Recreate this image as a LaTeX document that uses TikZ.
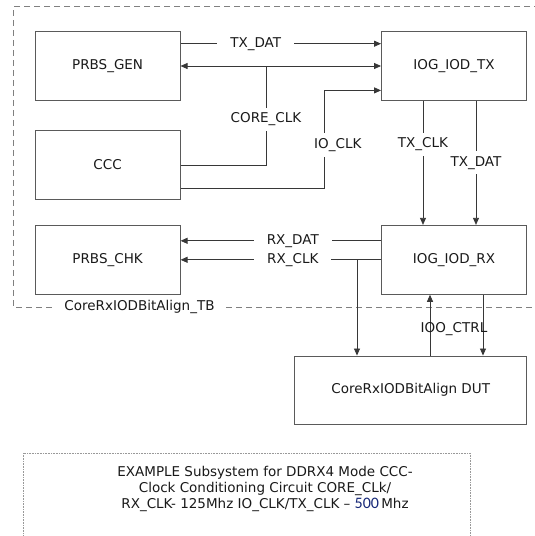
\documentclass[tikz,border=0pt]{standalone}
\usepackage{fontspec}
\setmainfont{DejaVu Sans}
\newfontfamily\numfont{Carlito}
\usetikzlibrary{arrows.meta}
\definecolor{boxline}{RGB}{90,90,90}
\definecolor{sigline}{RGB}{55,55,55}
\definecolor{txtcol}{RGB}{25,25,25}
\definecolor{numblue}{RGB}{22,40,120}
\tikzset{
  blk/.style={draw=boxline, line width=0.9pt, rectangle, minimum width=145pt, minimum height=69pt},
  sig/.style={draw=sigline, line width=0.8pt, -{Triangle[length=7pt,width=6pt]}},
  hlbl/.style={fill=white, inner xsep=13pt, inner ysep=2pt},
  vlbl/.style={fill=white, inner xsep=3pt, inner ysep=5pt},
}
\begin{document}
\begin{tikzpicture}[x=1pt, y=-1pt,
    every node/.style={font=\fontsize{13.5}{16}\selectfont, text=txtcol}]
    \useasboundingbox (0,0) rectangle (535,536);
    \clip (0,0) rectangle (535,536);

    % Testbench boundary
    \draw[gray, line width=0.8pt, dash pattern=on 6pt off 4pt]
        (560,6.8) -- (13.3,6.8) -- (13.3,307) -- (560,307);
    \node[fill=white, inner xsep=9pt, inner ysep=1pt] (tblbl) at (139.5,307) {CoreRxIODBitAlign\_TB};

    % Blocks
    \node[blk] (gen) at (107.6,66) {PRBS\_GEN};
    \node[blk] (txio) at (454,66) {IOG\_IOD\_TX};
    \node[blk] (ccc) at (107.6,165) {CCC};
    \node[blk] (chk) at (107.6,259.8) {PRBS\_CHK};
    \node[blk] (rxio) at (454,259.8) {IOG\_IOD\_RX};
    \node[blk, minimum width=232pt, minimum height=68pt] (dut) at (410.7,390) {CoreRxIODBitAlign DUT};

    % Generator to TX
    \draw[sig] ([yshift=22.3pt]gen.east) -- ([yshift=22.3pt]txio.west)
        node[hlbl, pos=0.375] {TX\_DAT};
    \draw[sig, {Triangle[length=7pt,width=6pt]}-{Triangle[length=7pt,width=6pt]}] (gen.east) -- (txio.west);

    % Clocks from CCC
    \coordinate (corej) at (266,66);
    \draw[sig, -] (ccc.east) -| (corej) node[vlbl, pos=0.73] {CORE\_CLK};
    \coordinate (iobend) at (324,90.4);
    \draw[sig] ([yshift=-23.7pt]ccc.east) -| (iobend) -- (iobend -| txio.west);
    \node[vlbl] (iolbl) at (337.8,145) {IO\_CLK};

    % TX loopback to RX
    \draw[sig] ([xshift=-31pt]txio.south) -- ([xshift=-31pt]rxio.north)
        node[vlbl, pos=0.35] {TX\_CLK};
    \draw[sig] ([xshift=22pt]txio.south) -- ([xshift=22pt]rxio.north)
        node[vlbl, pos=0.5] {TX\_DAT};

    % RX to checker
    \draw[sig] ([yshift=19pt]rxio.west) -- ([yshift=19pt]chk.east)
        node[hlbl, pos=0.44] {RX\_DAT};
    \draw[sig] (rxio.west) -- (chk.east)
        node[hlbl, pos=0.44] {RX\_CLK};
    \coordinate (rxj) at (357,259.8);
    \draw[sig] (rxj) -- (rxj |- dut.north);

    % DUT control
    \draw[sig] ([xshift=-24pt]rxio.south |- dut.north) -- ([xshift=-24pt]rxio.south);
    \draw[sig] ([xshift=29pt]rxio.south) -- ([xshift=29pt]rxio.south |- dut.north);
    \node (ctrllbl) at (454,329) {IOO\_CTRL};

    % Note
    \draw[gray!80, line width=0.8pt, dash pattern=on 0.8pt off 0.8pt]
        (23,545) -- (23,453) -- (470,453) -- (470,545);
    \node[align=center] (note) at (265,489)
        {EXAMPLE Subsystem for DDRX4 Mode CCC-\\
         Clock Conditioning Circuit CORE\_CLk/\\
         RX\_CLK- 125Mhz IO\_CLK/TX\_CLK – {\numfont\fontsize{16}{16}\selectfont\color{numblue}500}\,Mhz};
\end{tikzpicture}
\end{document}
